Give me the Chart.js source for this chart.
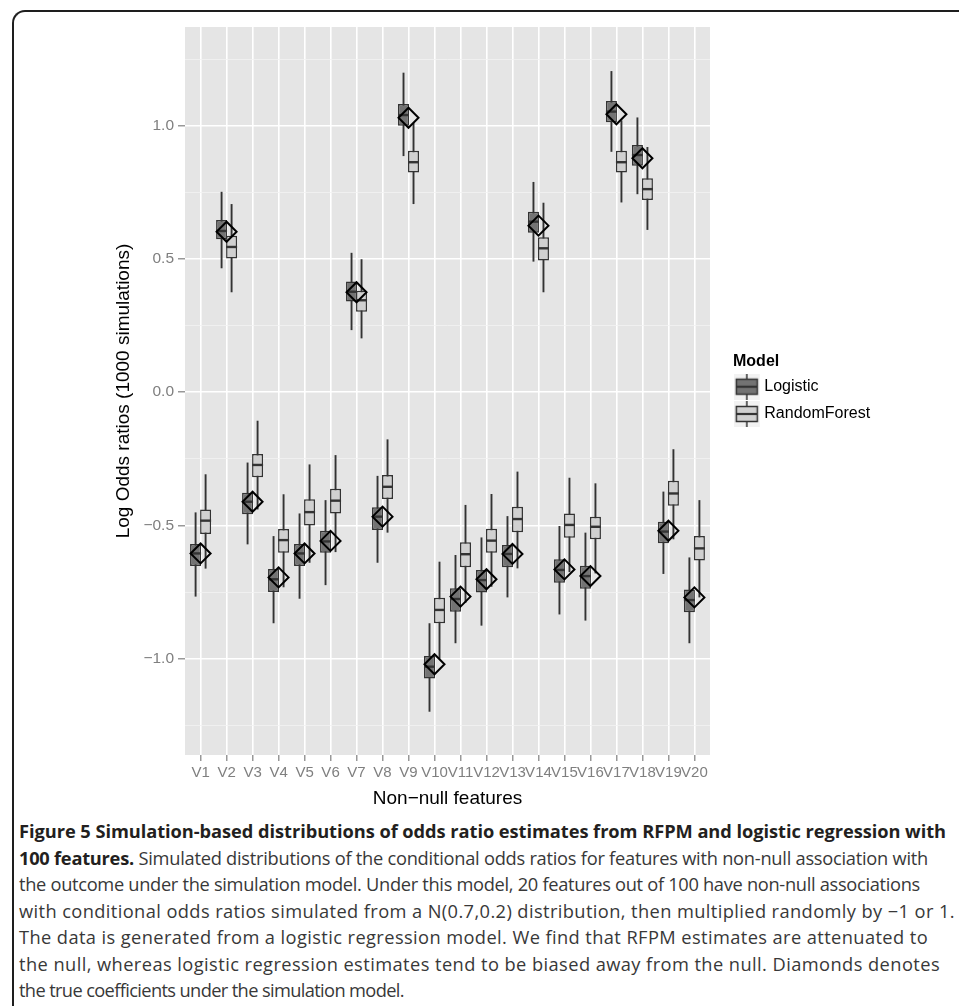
<!DOCTYPE html>
<html><head><meta charset="utf-8">
<script src="https://cdn.jsdelivr.net/npm/chart.js@4"></script>
<style>
html,body{margin:0;padding:0;background:#fff;}
body{width:959px;height:1006px;position:relative;overflow:hidden;}
#frame{position:absolute;left:12px;top:10px;width:1000px;height:1100px;border-top:2px solid #1e1e1e;border-left:2px solid #1e1e1e;border-top-left-radius:13px;box-sizing:border-box;pointer-events:none;}
#wrap{position:absolute;left:0;top:0;width:959px;height:815px;}
#caption{position:absolute;left:19px;top:818px;font-family:'Open Sans',sans-serif;color:#383838;line-height:26.5px;white-space:nowrap;font-size:16px;}
#caption b{color:#231f20;font-weight:700;}
#caption .ln{width:max-content;}
</style></head>
<body>
<div id="wrap"><canvas id="c"></canvas></div>
<div id="caption">
<div class="ln"><b>Figure 5 Simulation-based distributions of odds ratio estimates from RFPM and logistic regression with</b></div>
<div class="ln"><b>100 features.</b> Simulated distributions of the conditional odds ratios for features with non-null association with</div>
<div class="ln">the outcome under the simulation model. Under this model, 20 features out of 100 have non-null associations</div>
<div class="ln">with conditional odds ratios simulated from a N(0.7,0.2) distribution, then multiplied randomly by &minus;1 or 1.</div>
<div class="ln">The data is generated from a logistic regression model. We find that RFPM estimates are attenuated to</div>
<div class="ln">the null, whereas logistic regression estimates tend to be biased away from the null. Diamonds denotes</div>
<div class="ln">the true coefficients under the simulation model.</div>
</div>
<div id="frame"></div>
<script>
// ---------------- data ----------------
const categories = ['V1','V2','V3','V4','V5','V6','V7','V8','V9','V10','V11','V12','V13','V14','V15','V16','V17','V18','V19','V20'];

const logisticMin    = [-0.767, 0.465,-0.571,-0.867,-0.775,-0.724, 0.233,-0.640, 0.886,-1.199,-0.942,-0.876,-0.770, 0.490,-0.834,-0.857, 0.902, 0.743,-0.682,-0.942];
const logisticQ1     = [-0.652, 0.574,-0.458,-0.750,-0.652,-0.602, 0.340,-0.517, 1.000,-1.074,-0.824,-0.752,-0.657, 0.598,-0.715,-0.738, 1.013, 0.850,-0.567,-0.826];
const logisticMedian = [-0.605, 0.605,-0.411,-0.702,-0.605,-0.560, 0.377,-0.467, 1.040,-1.030,-0.776,-0.705,-0.607, 0.640,-0.667,-0.690, 1.053, 0.890,-0.523,-0.780];
const logisticQ3     = [-0.570, 0.646,-0.377,-0.663,-0.570,-0.520, 0.415,-0.432, 1.081,-0.990,-0.736,-0.667,-0.573, 0.677,-0.627,-0.651, 1.093, 0.928,-0.486,-0.740];
const logisticMax    = [-0.451, 0.752,-0.264,-0.540,-0.455,-0.405, 0.523,-0.314, 1.199,-0.867,-0.611,-0.545,-0.465, 0.789,-0.502,-0.527, 1.205, 1.031,-0.373,-0.620];

const forestMin      = [-0.662, 0.375,-0.440,-0.732,-0.640,-0.600, 0.202,-0.527, 0.706,-1.000,-0.790,-0.730,-0.661, 0.375,-0.675,-0.680, 0.712, 0.609,-0.552,-0.770];
const forestQ1       = [-0.532, 0.502,-0.319,-0.602,-0.500,-0.455, 0.302,-0.401, 0.824,-0.867,-0.657,-0.602,-0.526, 0.494,-0.546,-0.552, 0.824, 0.721,-0.426,-0.632];
const forestMedian   = [-0.482, 0.545,-0.273,-0.555,-0.450,-0.407, 0.345,-0.355, 0.863,-0.817,-0.608,-0.557,-0.476, 0.540,-0.498,-0.505, 0.863, 0.762,-0.380,-0.586];
const forestQ3       = [-0.440, 0.587,-0.232,-0.513,-0.402,-0.362, 0.381,-0.311, 0.906,-0.771,-0.563,-0.512,-0.430, 0.581,-0.455,-0.467, 0.906, 0.803,-0.332,-0.540];
const forestMax      = [-0.308, 0.706,-0.107,-0.383,-0.271,-0.236, 0.499,-0.177, 1.010,-0.636,-0.423,-0.382,-0.298, 0.711,-0.321,-0.342, 1.020, 0.920,-0.214,-0.405];

const trueCoef       = [-0.605, 0.602,-0.411,-0.695,-0.605,-0.558, 0.375,-0.467, 1.030,-1.021,-0.767,-0.702,-0.607, 0.625,-0.665,-0.690, 1.043, 0.878,-0.520,-0.770];

const yMajorTicks  = [-1.0, -0.5, 0.0, 0.5, 1.0];
const yMajorLabels = ['\u22121.0', '\u22120.5', '0.0', '0.5', '1.0'];
const yMinorTicks  = [-1.25, -0.75, -0.25, 0.25, 0.75, 1.25];

const seriesNames = ['Logistic', 'RandomForest'];
const fillColors  = ['#737373', '#d0d0d0'];

// ---------------- caption fitting ----------------
(function(){
  const targets = [927, 909, 901, 936, 909, 921, 385];
  const lines = document.querySelectorAll('#caption .ln');
  const cap = document.getElementById('caption');
  cap.style.fontSize = '100px';
  let sum = 0;
  lines.forEach((l, i) => { sum += targets[i] / l.getBoundingClientRect().width; });
  cap.style.fontSize = (100 * sum / lines.length).toFixed(2) + 'px';
  lines.forEach((l, i) => {
    const w = l.getBoundingClientRect().width;
    const n = l.textContent.length;
    l.style.letterSpacing = ((targets[i] - w) / n).toFixed(3) + 'px';
  });
})();

// ---------------- chart ----------------
const xs = categories.map((c, i) => i + 1);
const rangeData = (lo, hi) => xs.map((x, i) => ({x: x, y: [lo[i], hi[i]]}));
const isMajor = v => yMajorTicks.some(t => Math.abs(t - v) < 1e-6);
const allYTicks = yMajorTicks.concat(yMinorTicks).sort((a, b) => a - b);

function makeKey(fill){
  const c = document.createElement('canvas');
  c.width = 33; c.height = 26;
  const g = c.getContext('2d');
  g.fillStyle = '#f2f2f2'; g.fillRect(0, 0, 26, 26);
  g.strokeStyle = '#333'; g.lineWidth = 1.5;
  g.beginPath(); g.moveTo(13, 0); g.lineTo(13, 5.5); g.moveTo(13, 20.5); g.lineTo(13, 26); g.stroke();
  g.fillStyle = fill; g.fillRect(2.5, 5.5, 21, 15); g.strokeRect(2.5, 5.5, 21, 15);
  g.lineWidth = 2.2; g.beginPath(); g.moveTo(2.5, 13); g.lineTo(23.5, 13); g.stroke();
  return c;
}
const keys = fillColors.map(makeKey);

const panelPlugin = {
  id: 'panel',
  beforeDraw(chart){
    const {ctx, chartArea: a} = chart;
    ctx.save(); ctx.fillStyle = '#e5e5e5';
    ctx.fillRect(a.left, a.top, a.right - a.left, a.bottom - a.top);
    ctx.restore();
  }
};
const medianPlugin = {
  id: 'medians',
  afterDatasetDraw(chart, args){
    const ds = chart.data.datasets[args.index];
    if (!ds.medianValues) return;
    const ys = chart.scales.y, ctx = chart.ctx;
    ctx.save(); ctx.strokeStyle = '#333'; ctx.lineWidth = 2.4;
    args.meta.data.forEach((bar, i) => {
      const py = ys.getPixelForValue(ds.medianValues[i]);
      const w = bar.width;
      ctx.beginPath(); ctx.moveTo(bar.x - w / 2, py); ctx.lineTo(bar.x + w / 2, py); ctx.stroke();
    });
    ctx.restore();
  }
};

Chart.defaults.font.family = "'Liberation Sans', Arial, sans-serif";

new Chart(document.getElementById('c'), {
  type: 'bar',
  data: {
    datasets: [
      {type: 'line', label: 'True coefficient', xAxisID: 'x', yAxisID: 'y',
       data: xs.map((x, i) => ({x: x, y: trueCoef[i]})), showLine: false,
       pointStyle: 'rectRot', pointRadius: 10, pointHoverRadius: 10,
       pointBackgroundColor: 'rgba(0,0,0,0)', pointBorderColor: '#000', pointBorderWidth: 2},
      {label: seriesNames[0], stack: 'L', xAxisID: 'x', yAxisID: 'y',
       data: rangeData(logisticQ1, logisticQ3), medianValues: logisticMedian,
       backgroundColor: fillColors[0], borderColor: '#333', borderWidth: 1.5, borderSkipped: false,
       barPercentage: 1.1, categoryPercentage: 0.77},
      {label: seriesNames[1], stack: 'R', xAxisID: 'x', yAxisID: 'y',
       data: rangeData(forestQ1, forestQ3), medianValues: forestMedian,
       backgroundColor: fillColors[1], borderColor: '#333', borderWidth: 1.5, borderSkipped: false,
       barPercentage: 1.1, categoryPercentage: 0.77},
      {label: seriesNames[0] + ' whisker', stack: 'L', xAxisID: 'x', yAxisID: 'y',
       data: rangeData(logisticMin, logisticMax),
       backgroundColor: '#333', borderWidth: 0, barPercentage: 0.19, categoryPercentage: 0.77},
      {label: seriesNames[1] + ' whisker', stack: 'R', xAxisID: 'x', yAxisID: 'y',
       data: rangeData(forestMin, forestMax),
       backgroundColor: '#333', borderWidth: 0, barPercentage: 0.19, categoryPercentage: 0.77}
    ]
  },
  options: {
    responsive: true, maintainAspectRatio: false, animation: false, events: [],
    layout: {padding: {top: 27, right: 86, bottom: 0, left: 0}},
    scales: {
      x: {
        type: 'linear', min: 0.4, max: 20.6, offset: false,
        afterBuildTicks: s => { s.ticks = xs.map(v => ({value: v})); },
        grid: {offset: false, color: '#ffffff', lineWidth: 1.6, drawTicks: true, tickLength: 6, tickColor: '#7f7f7f', tickWidth: 1.2},
        border: {display: false},
        ticks: {autoSkip: false, maxRotation: 0, minRotation: 0, color: '#7f7f7f', font: {size: 15}, padding: 3,
                callback: v => categories[Math.round(v) - 1] || ''},
        title: {display: true, text: 'Non\u2212null features', color: '#000', font: {size: 19}, padding: {top: 0, bottom: 5}},
        afterFit: s => { s.height = 60; }
      },
      y: {
        type: 'linear', min: -1.3614, max: 1.3704, stacked: false,
        afterBuildTicks: s => { s.ticks = allYTicks.map(v => ({value: v})); },
        grid: {color: c => isMajor(c.tick.value) ? '#ffffff' : '#f2f2f2',
               lineWidth: c => isMajor(c.tick.value) ? 1.6 : 0.8,
               tickColor: c => isMajor(c.tick.value) ? '#7f7f7f' : 'rgba(0,0,0,0)',
               tickLength: 7, tickWidth: 1.2},
        border: {display: false},
        ticks: {color: '#7f7f7f', font: {size: 15.5}, padding: 4,
                callback: v => { const k = yMajorTicks.findIndex(t => Math.abs(t - v) < 1e-6); return k >= 0 ? yMajorLabels[k] : ''; }},
        title: {display: true, text: 'Log Odds ratios (1000 simulations)', color: '#000', font: {size: 19}, padding: {top: 112, bottom: 0}},
        afterFit: s => { s.width = 185; }
      },
      spacer: {
        type: 'linear', position: 'right', display: true,
        grid: {display: false}, ticks: {display: false}, border: {display: false},
        afterFit: s => { s.width = 23; }
      }
    },
    plugins: {
      tooltip: {enabled: false},
      legend: {
        position: 'right', align: 'start', maxWidth: 140,
        title: {display: true, text: 'Model', color: '#000', position: 'start',
                font: {size: 16, weight: 'bold', lineHeight: 1}, padding: {top: 326.7, bottom: -2.3}},
        labels: {
          usePointStyle: true, pointStyleWidth: 12, padding: 11.3, color: '#000', font: {size: 16},
          generateLabels: () => seriesNames.map((n, i) => ({
            text: n, pointStyle: keys[i], fillStyle: fillColors[i], strokeStyle: '#333',
            lineWidth: 0, hidden: false, datasetIndex: i + 1, fontColor: '#000'
          }))
        }
      }
    }
  },
  plugins: [panelPlugin, medianPlugin]
});
</script>
</body></html>
